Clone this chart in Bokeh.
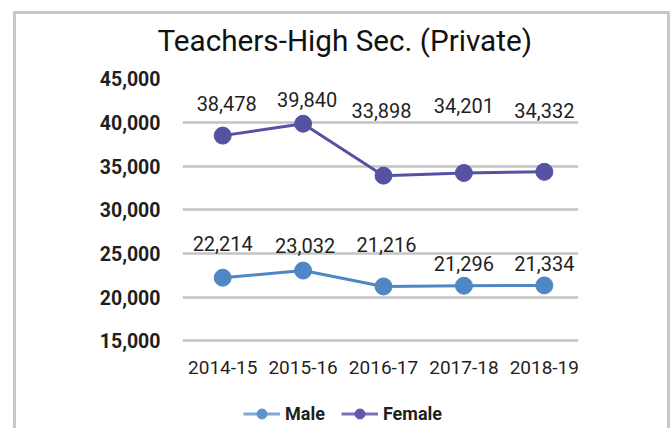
from bokeh.plotting import figure
from bokeh.layouts import column
from bokeh.models import (ColumnDataSource, FixedTicker, NumeralTickFormatter, Range1d,
                          Legend, LegendItem)
from bokeh.core.properties import value
from bokeh.embed import file_html
from bokeh.resources import INLINE

# ---- data ----
years = ["2014-15", "2015-16", "2016-17", "2017-18", "2018-19"]
male = [22214, 23032, 21216, 21296, 21334]
female = [38478, 39840, 33898, 34201, 34332]
y_ticks = [15000, 20000, 25000, 30000, 35000, 40000, 45000]
title_text = "Teachers-High Sec. (Private)"

# ---- label placement (style, pixels; positive = up) ----
male_dx = [0, 2, 3, 0, 0]
male_dy = [34, 25, 42, 22, 22]
female_dx = [4, 4, -2, 0, 0]
female_dy = [32, 24, 65, 67, 61]

MALE_C = "#4f86c4"
FEMALE_C = "#5652a3"
FONT = "Roboto"
TXT = "#1f1f1f"
BORDER = "3px solid #c8c8c8"

xs = list(range(len(years)))

p = figure(width=651, height=380, output_backend="svg", toolbar_location=None,
           x_range=Range1d(-0.5, 4.425), y_range=Range1d(14800, 46160),
           min_border_left=166, min_border_right=89, min_border_top=52, min_border_bottom=52)
p.outline_line_color = None
p.background_fill_color = "white"
p.border_fill_color = "white"

# title
p.title.text = title_text
p.title.text_font = FONT
p.title.text_font_size = "29.7px"
p.title.text_font_style = "normal"
p.title.text_color = "#111111"
p.title.align = "left"
p.title.vertical_align = "top"
p.title.offset = -25
p.title.standoff = 17

# axes
p.xaxis.ticker = FixedTicker(ticks=xs)
p.xaxis.major_label_overrides = {i: y for i, y in enumerate(years)}
p.yaxis.ticker = FixedTicker(ticks=y_ticks)
p.yaxis.formatter = NumeralTickFormatter(format="0,0")
for ax in (p.xaxis, p.yaxis):
    ax.axis_line_color = None
    ax.major_tick_line_color = None
    ax.minor_tick_line_color = None
    ax.major_tick_in = 0
    ax.major_tick_out = 0
    ax.major_label_text_font = FONT
    ax.major_label_text_color = TXT
p.xaxis.major_label_text_font_size = "19px"
p.xaxis.major_label_standoff = 18
p.yaxis.major_label_text_font_size = "19.5px"
p.yaxis.major_label_text_font_style = "bold"
p.yaxis.major_label_standoff = 22

# grid
p.xgrid.visible = False
p.ygrid.ticker = FixedTicker(ticks=y_ticks[:-1])
p.ygrid.grid_line_color = "#c4c4c4"
p.ygrid.grid_line_width = 2.5

# series
src_m = ColumnDataSource(dict(x=xs, y=male, t=[f"{v:,}" for v in male],
                              dx=male_dx, dy=[-d for d in male_dy]))
src_f = ColumnDataSource(dict(x=xs, y=female, t=[f"{v:,}" for v in female],
                              dx=female_dx, dy=[-d for d in female_dy]))

p.line("x", "y", source=src_m, line_color=MALE_C, line_width=3)
p.scatter("x", "y", source=src_m, size=17, fill_color=MALE_C, line_color=MALE_C)
p.line("x", "y", source=src_f, line_color=FEMALE_C, line_width=3)
p.scatter("x", "y", source=src_f, size=17, fill_color=FEMALE_C, line_color=FEMALE_C)

for src in (src_m, src_f):
    p.text("x", "y", text="t", source=src, x_offset="dx", y_offset="dy",
           text_font=value(FONT), text_font_size="20px", text_color=TXT,
           text_align="center", text_baseline="middle")

# legend strip (its own small figure so the legend is not clipped)
lg = figure(width=651, height=34, output_backend="svg", toolbar_location=None,
            x_range=Range1d(0, 1), y_range=Range1d(0, 1),
            min_border_left=166, min_border_right=89, min_border_top=0, min_border_bottom=0)
lg.axis.visible = False
lg.grid.visible = False
lg.outline_line_color = None
off = dict(x=[-10], y=[-10])  # legend-key renderers, kept outside the visible range
lm_line = lg.line(off["x"], off["y"], line_color="#7ea8d8", line_width=3)
lm_pt = lg.scatter(off["x"], off["y"], fill_color="#5f93cf", line_color="#5f93cf")
lf_line = lg.line(off["x"], off["y"], line_color="#7b72c2", line_width=3)
lf_pt = lg.scatter(off["x"], off["y"], fill_color="#6058ab", line_color="#6058ab")
legend = Legend(items=[LegendItem(label="Male", renderers=[lm_line, lm_pt]),
                       LegendItem(label="Female", renderers=[lf_line, lf_pt])],
                orientation="horizontal", location=(61, 2),
                glyph_width=37, glyph_height=25, label_height=25,
                label_standoff=5, spacing=16, padding=0, margin=0,
                border_line_color=None, background_fill_alpha=0,
                label_text_font=FONT, label_text_font_size="18px",
                label_text_font_style="bold", label_text_color=TXT)
lg.add_layout(legend, "center")

page = column(p, lg, margin=(11, 0, 0, 13), spacing=0,
              styles={"border-top": BORDER, "border-left": BORDER, "border-right": BORDER})

open("out.html", "w").write(file_html(page, INLINE))
